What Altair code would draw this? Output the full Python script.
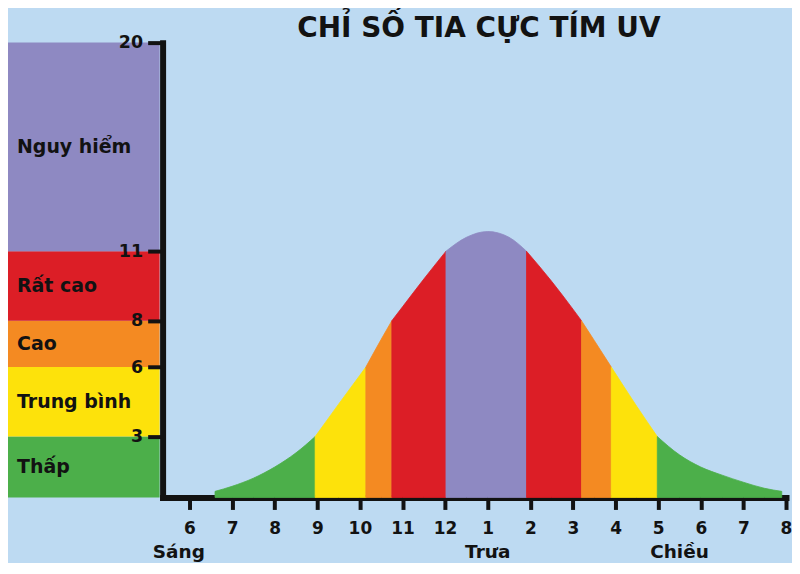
import json
import altair as alt
import pandas as pd

# ---------------- data ----------------
band_names = ["Thấp", "Trung bình", "Cao", "Rất cao", "Nguy hiểm"]
band_low = [0, 3, 6, 8, 11]
band_high = [3, 6, 8, 11, 20]
band_colors = ["#4CAF4A", "#FDE20B", "#F48A22", "#DC1E26", "#8E89C2"]

# UV index (hour of day, 24h)
curve_hours = [6.6, 7, 7.5, 8, 8.5, 9.5, 10, 10.5, 11, 11.5, 12.5, 13, 13.5,
               14.5, 15, 15.5, 16.5, 17.5, 18, 18.5, 19, 19.5, 19.9]
curve_uv = [0.3, 0.55, 0.95, 1.5, 2.2, 4.4, 5.65, 7.2, 8.6, 9.8, 11.6, 11.85, 11.6,
            9.7, 8.5, 7.15, 4.3, 2.1, 1.5, 1.1, 0.75, 0.45, 0.3]

# where the curve crosses the band thresholds (colour strip edges)
cut_hours = [8.95, 10.14, 10.75, 12.02, 13.91, 15.2, 15.9, 16.98]
cut_uv = [3, 6, 8, 11, 11, 8, 6, 3]
strip_bands = ["Thấp", "Trung bình", "Cao", "Rất cao", "Nguy hiểm",
               "Rất cao", "Cao", "Trung bình", "Thấp"]

hour_ticks = list(range(6, 21))
hour_labels = ["6", "7", "8", "9", "10", "11", "12", "1", "2", "3", "4", "5", "6", "7", "8"]
y_ticks = [3, 6, 8, 11, 20]

period_names = ["Sáng", "Trưa", "Chiều"]
period_hours = [5.75, 13.0, 17.5]

title_text = "CHỈ SỐ TIA CỰC TÍM UV"

# ---------------- tables ----------------
pts = sorted(zip(curve_hours + cut_hours, curve_uv + cut_uv))
edges = [curve_hours[0]] + cut_hours + [curve_hours[-1]]
rows = []
for i, b in enumerate(strip_bands):
    lo, hi = edges[i], edges[i + 1]
    for h, u in pts:
        if lo <= h <= hi:
            rows.append({"seg": i, "band": b, "hour": h, "uv": u})
seg_df = pd.DataFrame(rows)

band_df = pd.DataFrame({"band": band_names, "low": band_low, "high": band_high})
band_df["mid"] = (band_df["low"] + band_df["high"]) / 2

period_df = pd.DataFrame({"name": period_names, "hour": period_hours})

FONT = "DejaVu Sans"
INK = "#121212"
BG = "#BDDAF2"

H = 456
yscale = alt.Scale(domain=[0, 3, 20], range=[H, H - 61, 0], nice=False, zero=False)
xscale = alt.Scale(domain=[5.37, 20.0], nice=False, zero=False)
cscale = alt.Scale(domain=band_names, range=band_colors)

label_expr = f"{json.dumps(hour_labels)}[indexof({json.dumps(hour_ticks)}, datum.value)]"

# ---------------- left panel: bands ----------------
rects = alt.Chart(band_df).mark_rect().encode(
    x=alt.X(datum=0, type="quantitative", scale=alt.Scale(domain=[0, 1]), axis=None),
    x2=alt.datum(1),
    y=alt.Y("low:Q", scale=yscale, axis=None),
    y2="high:Q",
    color=alt.Color("band:N", scale=cscale, legend=None),
)
band_text = alt.Chart(band_df).mark_text(
    align="left", baseline="middle", dx=9, font=FONT, fontSize=19,
    fontWeight="bold", color=INK,
).encode(
    x=alt.X(datum=0, type="quantitative", scale=alt.Scale(domain=[0, 1]), axis=None),
    y=alt.Y("mid:Q", scale=yscale, axis=None),
    text="band:N",
)
left = alt.layer(rects, band_text).properties(width=152, height=H)

# ---------------- main panel: curve ----------------
area = alt.Chart(seg_df).mark_area(interpolate="monotone", strokeWidth=0.8).encode(
    x=alt.X("hour:Q", scale=xscale, title=None,
            axis=alt.Axis(values=hour_ticks, labelExpr=label_expr, tickSize=12,
                          tickWidth=4, tickColor=INK, domainWidth=6, domainColor=INK,
                          domainCap="square", labelPadding=11, labelFontSize=17,
                          labelFont=FONT, labelFontWeight="bold", labelColor=INK,
                          labelOverlap=False, labelFlush=False, grid=False)),
    y=alt.Y("uv:Q", scale=yscale, stack=None, title=None,
            axis=alt.Axis(values=y_ticks, orient="left", tickSize=15, tickWidth=4,
                          tickColor=INK, domainWidth=6, domainColor=INK,
                          domainCap="square", labelPadding=5, labelFontSize=17.5,
                          labelFont=FONT, labelFontWeight="bold", labelColor=INK,
                          labelOverlap=False, labelFlush=False, grid=False)),
    color=alt.Color("band:N", scale=cscale, legend=None),
    stroke=alt.Stroke("band:N", scale=cscale, legend=None),
    detail="seg:N",
)
periods = alt.Chart(period_df).mark_text(
    dy=55, baseline="middle", font=FONT, fontSize=18.5, fontWeight="bold", color=INK,
).encode(
    x=alt.X("hour:Q", scale=xscale),
    y=alt.datum(0),
    text="name:N",
)
main = alt.layer(area, periods).properties(width=625, height=H)

chart = alt.hconcat(
    left, main, spacing=3, bounds="flush",
    padding={"top": 6, "left": 0, "right": 0, "bottom": 0},
    title=alt.TitleParams(text=title_text, font=FONT, fontSize=28, fontWeight="bold",
                          color=INK, anchor="start", dx=290, offset=-31,
                          baseline="alphabetic"),
).resolve_scale(
    x="independent", y="independent"
).configure(background=BG).configure_view(stroke=None)

chart.save("out.html", embed_options={"renderer": "svg", "actions": False})
